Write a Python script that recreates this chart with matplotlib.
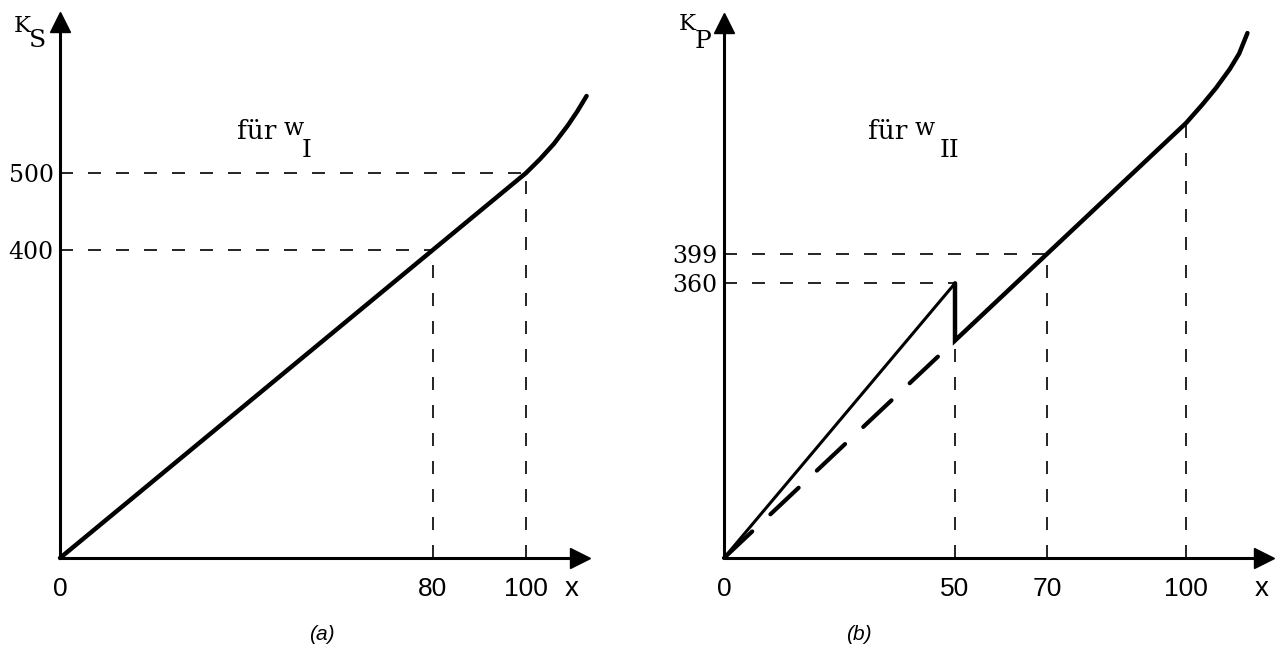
import matplotlib
matplotlib.use("Agg")
import matplotlib.pyplot as plt

# Bild (a): K_S fuer w_I
x_a = [0, 80, 100, 103, 106, 109, 111, 113]
k_a = [0, 400, 500, 518, 538, 562, 580, 600]
guide_x_a = [80, 100]
guide_k_a = [400, 500]
xticks_a = [0, 80, 100]
yticks_a = [400, 500]

# Bild (b): K_P fuer w_II
x_b_first = [0, 50]
k_b_first = [0, 360]
x_b = [50, 50, 70, 100, 103.5, 106.5, 109.5, 111.5, 113.3]
k_b = [360, 285, 399, 570, 594, 616, 641, 661, 688]
x_b_dash = [0, 50]
k_b_dash = [0, 285]
hguide_x_b = [50, 70]
hguide_k_b = [360, 399]
vguide_x_b = [50, 70, 100]
vguide_k_b = [285, 399, 570]
xticks_b = [0, 50, 70, 100]
yticks_b = [360, 399]

W, H = 1276, 648
SANS = "Liberation Sans"
TYPE = "DejaVu Serif"

fig = plt.figure(figsize=(W / 100, H / 100), dpi=100)


def fx(px):
    return px / W


def fy(py):
    return 1 - py / H


def make_axes(ox, oy, right, top, kx, ky):
    # origin in pixels, arrow centres in pixels, pixels per unit
    ax = fig.add_axes([fx(ox), fy(oy), (right - ox) / W, (oy - top) / H])
    ax.set_xlim(0, (right - ox) / kx)
    ax.set_ylim(0, (oy - top) / ky)
    ax.patch.set_alpha(0)
    for s in ["top", "right"]:
        ax.spines[s].set_visible(False)
    for s in ["left", "bottom"]:
        ax.spines[s].set_linewidth(2.2)
        ax.spines[s].set_capstyle("butt")
    ax.plot(1, 0, ">k", ms=15, transform=ax.transAxes, clip_on=False)
    ax.plot(0, 1, "^k", ms=15, transform=ax.transAxes, clip_on=False)
    ax.tick_params(axis="x", length=0, pad=14)
    ax.tick_params(axis="y", length=0, pad=4.5)
    return ax


guide = dict(color="black", lw=1.2, dashes=(7.8, 9), clip_on=False)
main = dict(color="black", lw=3.2, solid_capstyle="round", solid_joinstyle="miter", clip_on=False)

# (a)
ax1 = make_axes(60, 558, 580, 22, 4.66, 0.77)
for gx, gk in zip(guide_x_a, guide_k_a):
    ax1.plot([0, gx], [gk, gk], **guide)
    ax1.plot([gx, gx], [0, gk], **guide)
ax1.plot(x_a, k_a, **main)
ax1.set_xticks(xticks_a, [str(v) for v in xticks_a], family=SANS, fontsize=19)
ax1.set_yticks(yticks_a, [str(v) for v in yticks_a], family=TYPE, fontsize=17)

# (b)
ax2 = make_axes(724, 558, 1264, 23, 4.62, 0.763)
for gx, gk in zip(hguide_x_b, hguide_k_b):
    ax2.plot([0, gx], [gk, gk], **guide)
for gx, gk in zip(vguide_x_b, vguide_k_b):
    ax2.plot([gx, gx], [0, gk], **guide)
ax2.plot(x_b_dash, k_b_dash, color="black", lw=3, dashes=(9.3, 6),
         dash_capstyle="round", clip_on=False)
ax2.plot(x_b_first, k_b_first, color="black", lw=2.2, solid_capstyle="round", clip_on=False)
ax2.plot(x_b, k_b, **main)
ax2.set_xticks(xticks_b, [str(v) for v in xticks_b], family=SANS, fontsize=19)
ax2.set_yticks(yticks_b, [str(v) for v in yticks_b], family=TYPE, fontsize=17)

# Achsenbeschriftungen
for px in [572, 1262]:
    fig.text(fx(px), fy(589), "x", family=SANS, fontsize=20, ha="center", va="center")

fig.text(fx(14), fy(32), "K", family=TYPE, fontsize=16.5, ha="left", va="baseline")
fig.text(fx(29), fy(47), "S", family=TYPE, fontsize=18, ha="left", va="baseline")
fig.text(fx(679), fy(30), "K", family=TYPE, fontsize=16.5, ha="left", va="baseline")
fig.text(fx(695), fy(48), "P", family=TYPE, fontsize=18, ha="left", va="baseline")

fig.text(fx(237), fy(139), "für", family=TYPE, fontsize=19, ha="left", va="baseline")
fig.text(fx(284), fy(135), "w", family=TYPE, fontsize=17, ha="left", va="baseline")
fig.text(fx(302), fy(157), "I", family=TYPE, fontsize=18, ha="left", va="baseline")
fig.text(fx(868), fy(139), "für", family=TYPE, fontsize=19, ha="left", va="baseline")
fig.text(fx(915), fy(135), "w", family=TYPE, fontsize=17, ha="left", va="baseline")
fig.text(fx(940), fy(157), "II", family=TYPE, fontsize=18, ha="left", va="baseline")

fig.text(fx(322), fy(635), "(a)", family=SANS, style="italic", fontsize=15, ha="center", va="center")
fig.text(fx(859), fy(635), "(b)", family=SANS, style="italic", fontsize=15, ha="center", va="center")

fig.savefig("out.png", dpi=100)
